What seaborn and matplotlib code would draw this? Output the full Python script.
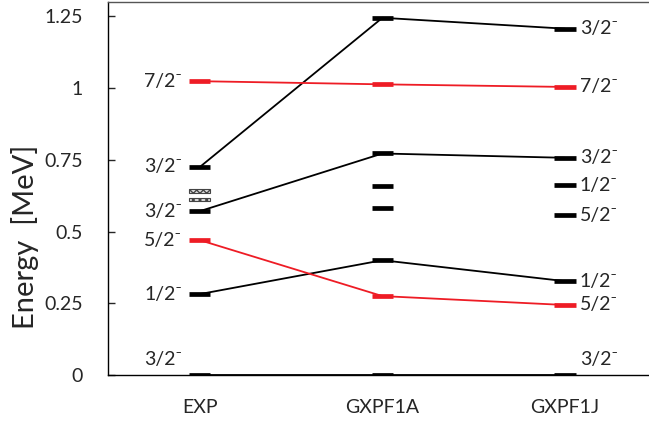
import numpy as np
import pandas as pd
import matplotlib
matplotlib.use('Agg')
import matplotlib.pyplot as plt
import seaborn as sns

# Modelos / colunas do esquema de níveis
models = ['EXP', 'GXPF1A', 'GXPF1J']

# Bandas ligadas entre as colunas (energia em MeV)
band_gs = [0.0, 0.0, 0.0]
band_12 = [0.282, 0.400, 0.327]
band_52 = [0.470, 0.275, 0.244]
band_32b = [0.571, 0.772, 0.757]
band_32c = [0.725, 1.245, 1.207]
band_72 = [1.024, 1.013, 1.004]

# Níveis soltos
extra_a = [0.581, 0.658]
extra_j = [0.557, 0.662]
exp_tentative = [0.612, 0.642]

# Rótulos de spin
exp_labels = ['3/2', '1/2', '5/2', '3/2', '3/2', '7/2']
exp_label_e = [0.0, 0.282, 0.470, 0.571, 0.725, 1.024]
j_labels = ['3/2', '5/2', '1/2', '5/2', '1/2', '3/2', '7/2', '3/2']
j_label_e = [0.0, 0.244, 0.327, 0.557, 0.662, 0.757, 1.004, 1.207]

sns.set_style('white')
plt.rcParams['font.family'] = ['Lato', 'DejaVu Sans']

fig = plt.figure(figsize=(6.49, 4.23), dpi=100)
ax = fig.add_axes([108 / 649, 48 / 423, 1 - 108 / 649, 373 / 423])

xpos = np.arange(len(models))
red = '#ee1c25'
bands = [(band_gs, 'black'), (band_12, 'black'), (band_52, red),
         (band_32b, 'black'), (band_32c, 'black'), (band_72, red)]

# Linhas de ligação
for vals, c in bands:
    df = pd.DataFrame({'x': xpos, 'e': vals})
    sns.lineplot(data=df, x='x', y='e', color=c, lw=1.3, ax=ax, zorder=2)

# Barras dos níveis
hw = 0.058
for vals, c in bands:
    ax.hlines(vals, xpos - hw, xpos + hw, colors=c, lw=3.4, zorder=3)
ax.hlines(extra_a, 1 - hw, 1 + hw, colors='black', lw=3.4, zorder=3)
ax.hlines(extra_j, 2 - hw, 2 + hw, colors='black', lw=3.4, zorder=3)

# Níveis tentativos (hachurados)
ax.barh(exp_tentative, 2 * hw, height=0.013, left=-hw, color='#dddddd',
        edgecolor='#444444', hatch='xxxxx', lw=0.8, zorder=3)

# Rótulos
for lab, e in zip(exp_labels, exp_label_e):
    dy = 11 if e == 0 else 0
    ax.annotate(lab + '⁻', (-hw, e), xytext=(-5, dy), textcoords='offset points',
                ha='right', va='center', fontsize=14)
for lab, e in zip(j_labels, j_label_e):
    dy = 11 if e == 0 else 0
    ax.annotate(lab + '⁻', (2 + hw, e), xytext=(3, dy), textcoords='offset points',
                ha='left', va='center', fontsize=14)

ax.set_xlim(-0.503, 2.46)
ax.set_ylim(0, 1.3)
ax.set_xticks(xpos)
ax.set_xticklabels(models, fontsize=14)
ax.set_yticks([0, 0.25, 0.5, 0.75, 1, 1.25])
ax.set_yticklabels(['0', '0.25', '0.5', '0.75', '1', '1.25'], fontsize=14)
ax.tick_params(axis='y', direction='in', length=5, width=1, left=True, pad=18)
ax.tick_params(axis='x', length=0, pad=17)
ax.set_xlabel('')
ax.set_ylabel('Energy  [MeV]', fontsize=21)
ax.yaxis.set_label_coords(-0.128, 0.37)

ax.spines['right'].set_visible(False)
ax.spines['left'].set_color('black')
ax.spines['bottom'].set_color('black')
ax.spines['top'].set_color('#555555')
for s in ax.spines.values():
    s.set_linewidth(1.0)

plt.savefig('out.png', dpi=100)
